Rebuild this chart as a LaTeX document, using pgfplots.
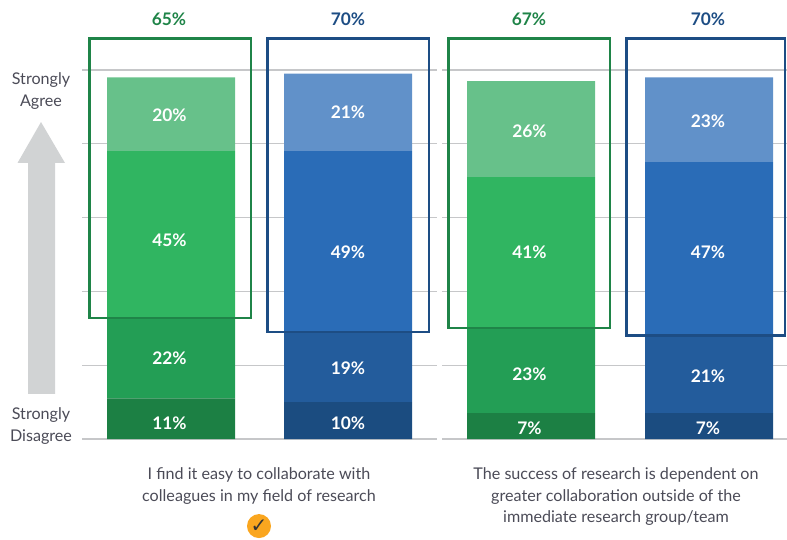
\documentclass[border=0pt]{standalone}
\usepackage{fontspec}
\setmainfont{Lato}
\newfontfamily\symfont{DejaVu Sans}
\usepackage{pgfplots}
\usepackage{pgfplotstable}
\pgfplotsset{compat=1.18}

\definecolor{txt}{HTML}{4B4B57}
\definecolor{gridc}{HTML}{C6C7C9}
\definecolor{arrowc}{HTML}{D1D3D4}
\definecolor{g1}{HTML}{1C8044}
\definecolor{g2}{HTML}{239E55}
\definecolor{g3}{HTML}{30B561}
\definecolor{g4}{HTML}{67C18A}
\definecolor{b1}{HTML}{1B4C80}
\definecolor{b2}{HTML}{235C9C}
\definecolor{b3}{HTML}{2A6CB7}
\definecolor{b4}{HTML}{6191C9}
\definecolor{gbox}{HTML}{1F8448}
\definecolor{bbox}{HTML}{1D4D84}
\definecolor{tick}{HTML}{FAA61F}

% x is in reference pixels, y in percent (3.69 px per 1%)
\pgfplotstableread{
x   sd  d   a   sa
171 11  22  45  20
531 7   23  41  26
}\greenbars
\pgfplotstableread{
x   sd  d   a   sa
348 10  19  49  21
709 7   21  47  23
}\bluebars
\pgfplotstableread{
x     y     v
169.5 87.8  20
169.5 53.9  45
169.5 22.0  22
169.5 4.3   11
348   88.6  21
348   50.7  49
348   19.2  19
348   4.3   10
529.5 83.5  26
529.5 50.7  41
529.5 17.6  23
529.5 3.0   7
708   86.2  23
708   50.7  47
708   17.1  21
708   3.0   7
}\barlabels

\pgfplotsset{
  base/.style={
    scale only axis, width=590.25pt, height=404.25pt,
    xmin=0, xmax=787, ymin=-27.1, ymax=118.97,
    hide axis, clip=false, at={(0,0)}, anchor=south west,
  },
  stack/.style={base, ybar stacked, bar width=96pt, bar shift=0pt},
}
\tikzset{
  toplabel/.style={font=\fontsize{13}{14}\selectfont\bfseries, inner sep=0pt},
  caption/.style={txt, font=\fontsize{12.1}{16.3}\selectfont, align=center, inner sep=0pt},
}

\begin{document}
\begin{tikzpicture}
\useasboundingbox (0,0) rectangle (590.25pt,404.25pt);

\begin{axis}[base]
  \addplot[gridc, line width=0.9pt, unbounded coords=jump] coordinates {
    (82,0)(437,0)(nan,nan)(442,0)(787,0)(nan,nan)
    (82,20)(437,20)(nan,nan)(442,20)(787,20)(nan,nan)
    (82,40)(437,40)(nan,nan)(442,40)(787,40)(nan,nan)
    (82,60)(437,60)(nan,nan)(442,60)(787,60)(nan,nan)
    (82,80)(437,80)(nan,nan)(442,80)(787,80)(nan,nan)
    (82,100)(437,100)(nan,nan)(442,100)(787,100)
  };
\end{axis}

\begin{axis}[stack]
  \addplot[fill=g1, draw=none] table[x=x, y=sd] {\greenbars};
  \addplot[fill=g2, draw=none] table[x=x, y=d] {\greenbars};
  \addplot[fill=g3, draw=none] table[x=x, y=a] {\greenbars};
  \addplot[fill=g4, draw=none] table[x=x, y=sa] {\greenbars};
\end{axis}

\begin{axis}[stack]
  \addplot[fill=b1, draw=none] table[x=x, y=sd] {\bluebars};
  \addplot[fill=b2, draw=none] table[x=x, y=d] {\bluebars};
  \addplot[fill=b3, draw=none] table[x=x, y=a] {\bluebars};
  \addplot[fill=b4, draw=none] table[x=x, y=sa] {\bluebars};
\end{axis}

\begin{axis}[base, /pgf/number format/assume math mode=true]
  \addplot[only marks, mark=none, point meta=explicit,
    nodes near coords={\pgfmathprintnumber{\pgfplotspointmeta}\%},
    nodes near coords align={anchor=center},
    every node near coord/.append style={white, font=\fontsize{13}{14}\selectfont\bfseries, inner sep=0pt},
  ] table[x=x, y=y, meta=v] {\barlabels};

  % outline boxes
  \draw[gbox, line width=2pt] (axis cs:89.5,32.8) rectangle (axis cs:251,108.5);
  \draw[bbox, line width=2pt] (axis cs:267.5,29) rectangle (axis cs:429,108.5);
  \draw[gbox, line width=2pt] (axis cs:448.5,30.1) rectangle (axis cs:610,108.5);
  \draw[bbox, line width=2pt] (axis cs:626.5,28) rectangle (axis cs:785,108.5);

  % percentages over the boxes
  \node[toplabel, gbox] at (axis cs:169,113.8) {65\%};
  \node[toplabel, bbox] at (axis cs:348,113.8) {70\%};
  \node[toplabel, gbox] at (axis cs:529,113.8) {67\%};
  \node[toplabel, bbox] at (axis cs:708,113.8) {70\%};

  % scale arrow
  \fill[arrowc] (axis cs:28,12.2) -- (axis cs:55,12.2) -- (axis cs:55,74.8)
    -- (axis cs:65,74.8) -- (axis cs:41,85.9) -- (axis cs:17.5,74.8)
    -- (axis cs:28,74.8) -- cycle;

  \node[caption] at (axis cs:41,94.35) {Strongly\\Agree};
  \node[caption] at (axis cs:41,3.6) {Strongly\\Disagree};
  \node[caption] at (axis cs:259,-12.75) {I find it easy to collaborate with\\colleagues in my field of research};
  \node[caption] at (axis cs:616,-15.6) {The success of research is dependent on\\greater collaboration outside of the\\immediate research group/team};

  % check mark under the first statement
  \fill[tick] (axis cs:259,-23.6) circle (9pt);
  \node[black!80, inner sep=0pt, font=\symfont\fontsize{15}{16}\selectfont] at (axis cs:259,-23.6) {✓};
\end{axis}
\end{tikzpicture}
\end{document}
